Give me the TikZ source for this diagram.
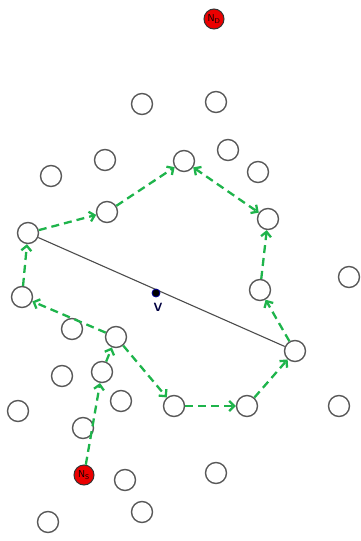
\documentclass[tikz,border=0pt]{standalone}
\usetikzlibrary{arrows.meta}
\definecolor{routegreen}{RGB}{30,180,75}
\begin{document}
\begin{tikzpicture}[x=1pt,y=-1pt,
  nd/.style={circle,draw=black!65,line width=1.4pt,minimum size=21pt,inner sep=0pt},
  rednd/.style={circle,draw=black!80,fill=red!92!black,line width=1pt,minimum size=20pt,inner sep=0pt,font=\sffamily},
  route/.style={draw=routegreen,line width=2.3pt,dash pattern=on 8pt off 5pt,-{Straight Barb[length=5pt,width=10pt]}},
  chord/.style={draw=black!70,line width=1.1pt}]
\useasboundingbox (0,0) rectangle (360,541);
\node[rednd] (nd) at (214,19) {N$_{\mathsf{D}}$};
\node[rednd] (ns) at (84,475) {N$_{\mathsf{S}}$};
\foreach \n/\x/\y in {1/142/104,2/216/102,3/105/160,4/51/176,5/184/161,6/228/150,7/258/172,8/107/212,9/28/233,10/268/219,11/349/277,12/22/297,13/260/290,14/72/329,15/116/337,16/295/351,17/62/376,18/102/372,19/121/401,20/18/411,21/174/406,22/247/406,23/339/406,24/83/428,25/125/480,26/216/473,27/142/512,28/48/522}
  \node[nd] (c\n) at (\x,\y) {};
\draw[chord] (c9) -- (c16);
\node[circle,fill=black,draw=blue!60!black,line width=0.8pt,minimum size=8pt,inner sep=0pt] (v) at (156,293) {};
\node[font=\sffamily\bfseries\large,text=blue!25!black,anchor=north] (vl) at (158,300) {V};
\draw[route] (ns) -- (c18);
\draw[route] (c18) -- (c15);
\draw[route] (c15) -- (c21);
\draw[route] (c21) -- (c22);
\draw[route] (c22) -- (c16);
\draw[route] (c16) -- (c13);
\draw[route] (c13) -- (c10);
\draw[route,{Straight Barb[length=5pt,width=10pt]}-{Straight Barb[length=5pt,width=10pt]}] (c5) -- (c10);
\draw[route] (c8) -- (c5);
\draw[route] (c9) -- (c8);
\draw[route] (c12) -- (c9);
\draw[route] (c15) -- (c12);
\end{tikzpicture}
\end{document}
